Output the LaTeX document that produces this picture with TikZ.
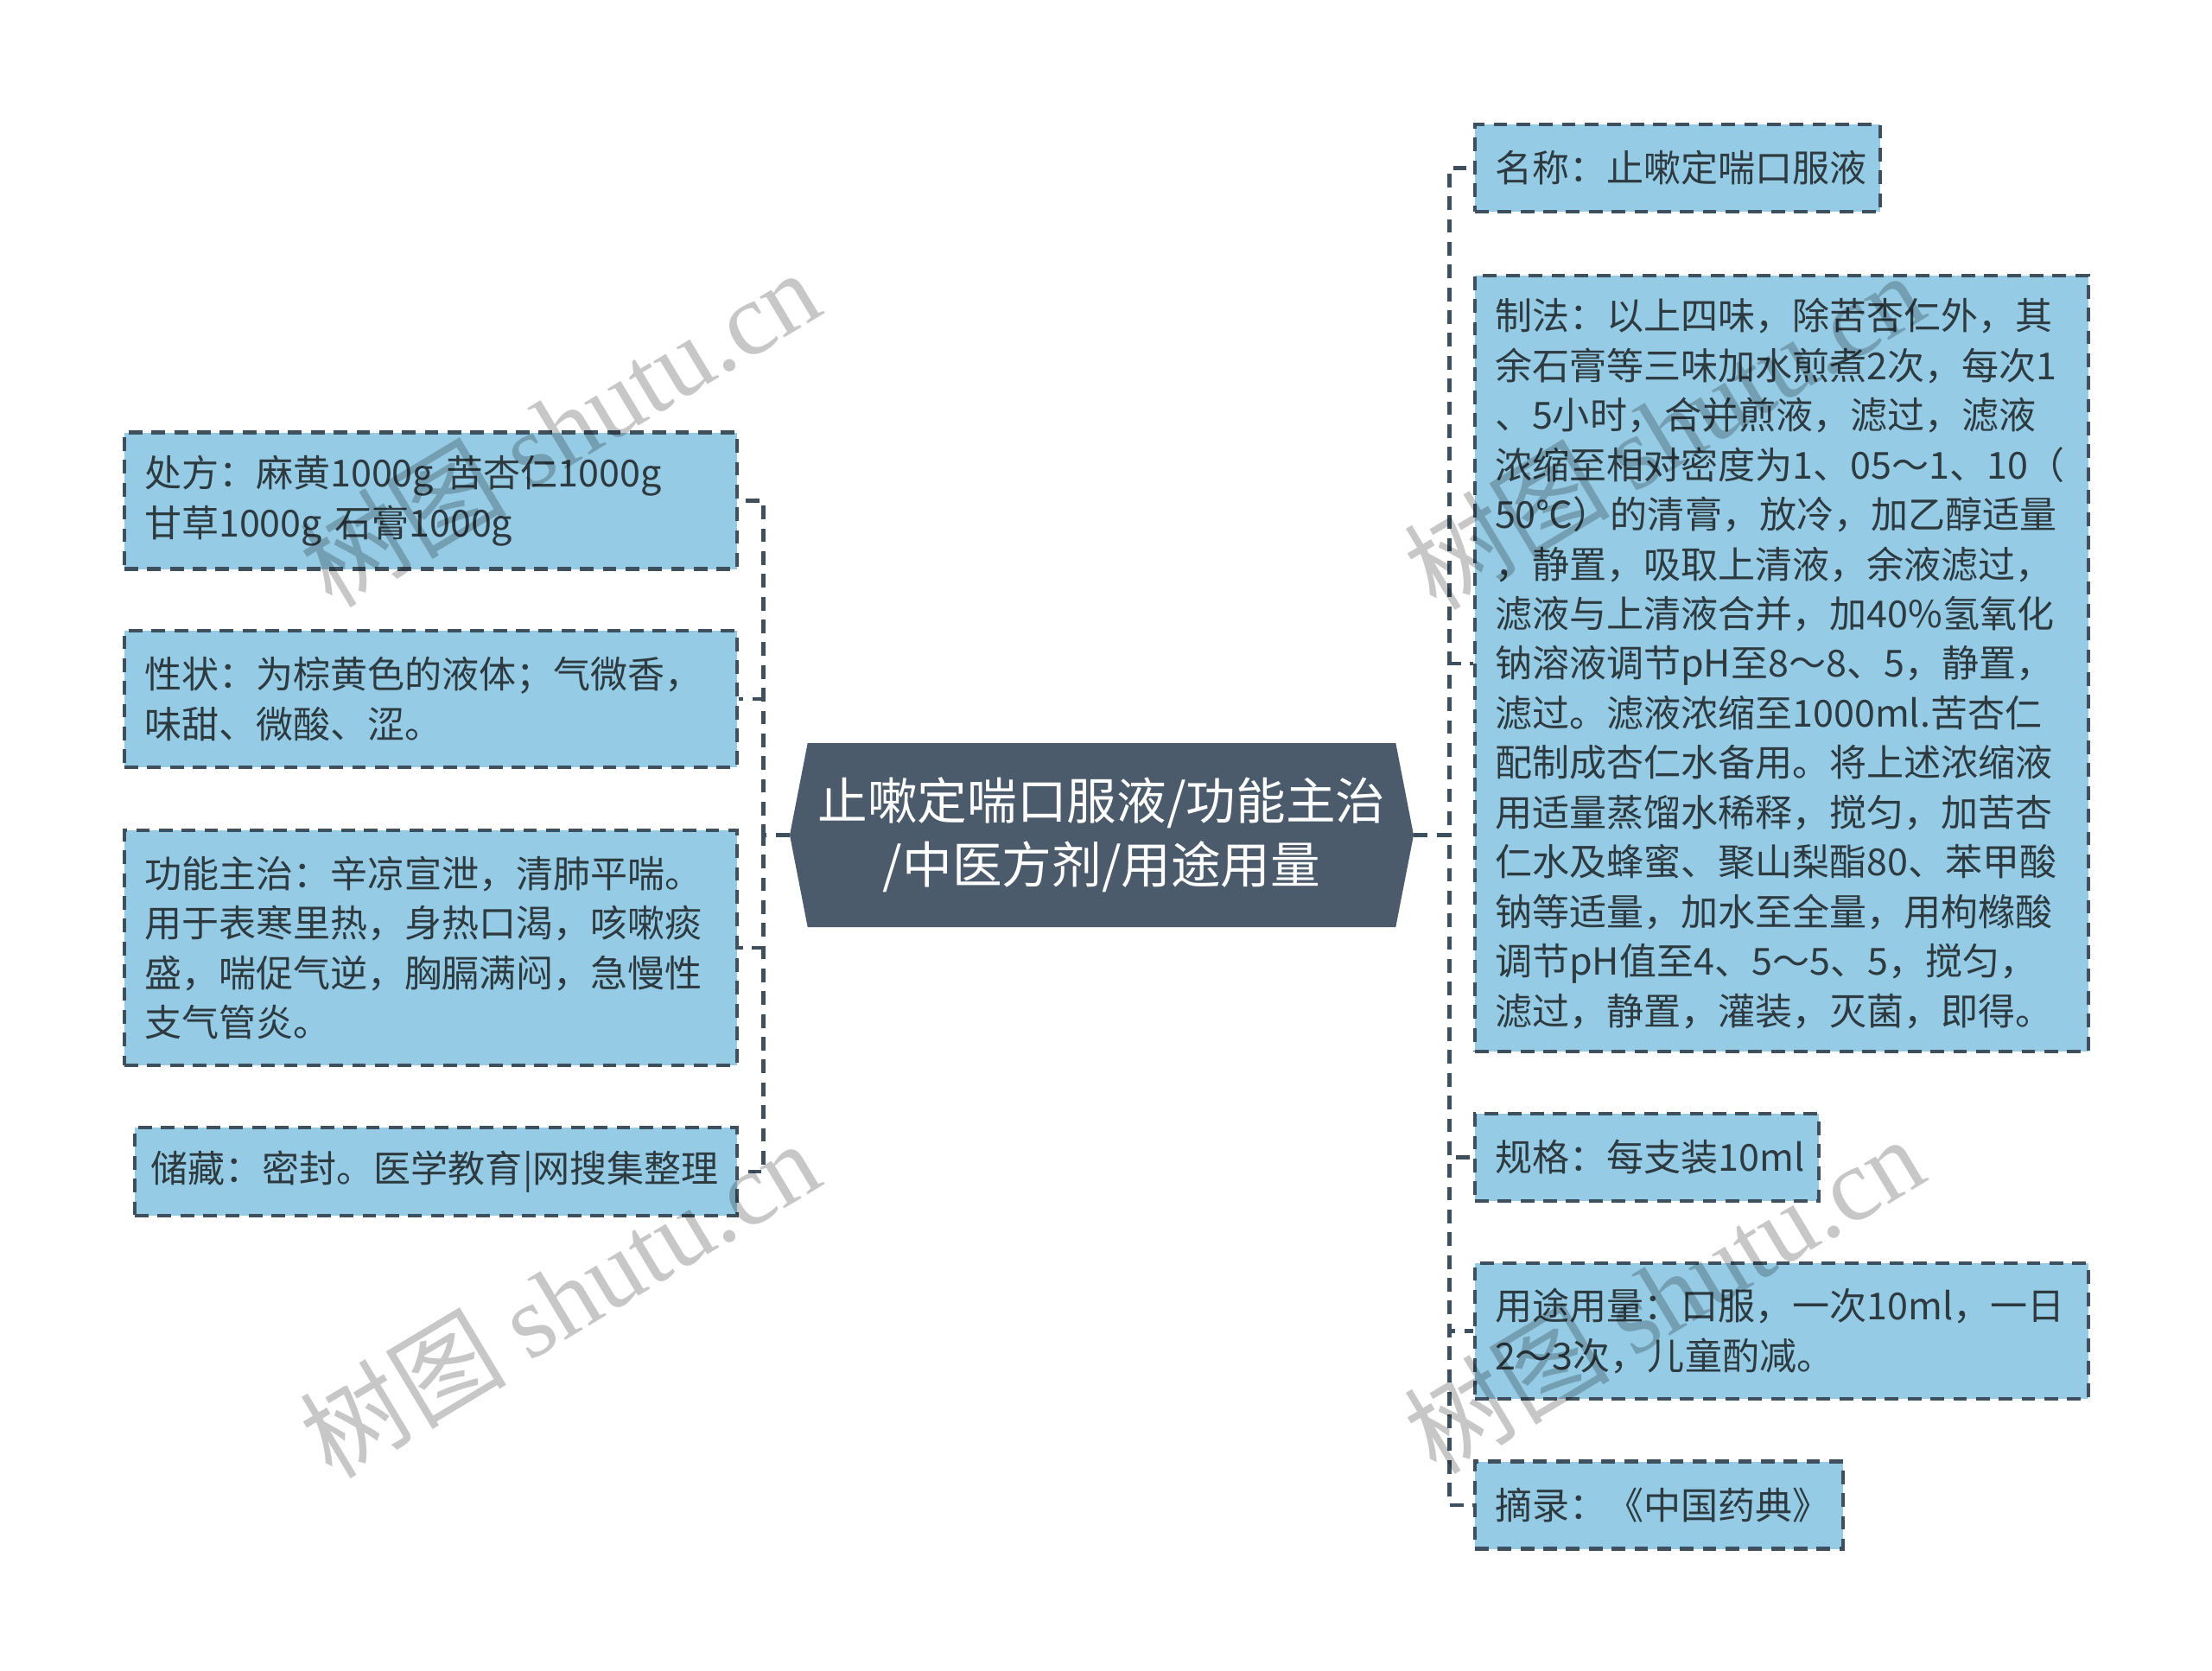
\documentclass[tikz,border=0pt]{standalone}
\usepackage{fontspec}
\setmainfont{Noto Sans CJK SC}
\newfontfamily\wmserif{Liberation Serif}
\usepackage{tikz}
\usetikzlibrary{shapes.symbols}

\definecolor{leafblue}{HTML}{95CBE4}
\definecolor{edgegray}{HTML}{3E505E}
\definecolor{hubgray}{HTML}{4B5B6B}
\definecolor{inkgray}{HTML}{2D3A40}

\tikzset{
  leaf/.style={rectangle, draw=edgegray, fill=leafblue, line width=2.5pt,
    dash pattern=on 9pt off 6pt, inner xsep=0.46cm, inner ysep=0pt,
    align=left, text=inkgray, font=\fontsize{24.5pt}{32.7pt}\selectfont},
  link/.style={draw=edgegray, line width=2.5pt, dash pattern=on 9pt off 6pt},
  shuiyin/.style={text=black, text opacity=0.22, rotate=31,
    font=\fontsize{68pt}{68pt}\selectfont}
}

\begin{document}
\begin{tikzpicture}
\useasboundingbox (0,0) rectangle (51.2,-38.68);

% centre
\node[signal, signal to=east and west, signal pointer angle=158,
    fill=hubgray, text=white, minimum width=14.44cm, minimum height=4.26cm,
    align=center, font=\fontsize{32.8pt}{42.1pt}\selectfont]
    (hub) at (25.5,-19.33) {止嗽定喘口服液/功能主治\\/中医方剂/用途用量};

% left side
\node[leaf, text width=13.26cm, minimum height=3.16cm] (fang) at (9.97,-11.59)
    {处方：麻黄1000g 苦杏仁1000g\\甘草1000g 石膏1000g};
\node[leaf, text width=13.26cm, minimum height=3.16cm] (xing) at (9.97,-16.18)
    {性状：为棕黄色的液体；气微香，\\味甜、微酸、涩。};
\node[leaf, text width=13.26cm, minimum height=5.44cm] (gong) at (9.97,-21.94)
    {功能主治：辛凉宣泄，清肺平喘。\\用于表寒里热，身热口渴，咳嗽痰\\盛，喘促气逆，胸膈满闷，急慢性\\支气管炎。};
\node[leaf, text width=13.2cm, inner xsep=0.37cm, minimum height=2.04cm] (chu) at (10.09,-27.12)
    {储藏：密封。医学教育|网搜集整理};

% right side
\node[leaf, text width=8.46cm, minimum height=2.02cm] (ming) at (38.83,-3.89)
    {名称：止嗽定喘口服液};
\node[leaf, text width=13.28cm, minimum height=17.97cm] (zhi) at (41.24,-15.36)
    {制法：以上四味，除苦杏仁外，其\\余石膏等三味加水煎煮2次，每次1\\、5小时，合并煎液，滤过，滤液\\浓缩至相对密度为1、05～1、10（\\50℃）的清膏，放冷，加乙醇适量\\，静置，吸取上清液，余液滤过，\\滤液与上清液合并，加40\%氢氧化\\钠溶液调节pH至8～8、5，静置，\\滤过。滤液浓缩至1000ml.苦杏仁\\配制成杏仁水备用。将上述浓缩液\\用适量蒸馏水稀释，搅匀，加苦杏\\仁水及蜂蜜、聚山梨酯80、苯甲酸\\钠等适量，加水至全量，用枸橼酸\\调节pH值至4、5～5、5，搅匀，\\滤过，静置，灌装，灭菌，即得。};
\node[leaf, text width=7.04cm, minimum height=2.02cm] (gui) at (38.12,-26.79)
    {规格：每支装10ml};
\node[leaf, text width=13.28cm, minimum height=3.14cm] (yong) at (41.24,-30.81)
    {用途用量：口服，一次10ml，一日\\2～3次，儿童酌减。};
\node[leaf, text width=7.6cm, minimum height=2.02cm] (zhai) at (38.4,-34.84)
    {摘录：《中国药典》};

% connectors
\foreach \n in {fang,xing,gong,chu}
  \draw[link] (hub.west) -- ++(-0.6,0) |- (\n.east);
\foreach \n in {ming,zhi,gui,yong,zhai}
  \draw[link] (hub.east) -- ++(0.82,0) |- (\n.west);

% watermarks
\node[shuiyin] (wm1) at (12.95,-9.9) {树图 {\wmserif shutu.cn}};
\node[shuiyin] (wm2) at (12.95,-30.05) {树图 {\wmserif shutu.cn}};
\node[shuiyin] (wm3) at (38.5,-9.95) {树图 {\wmserif shutu.cn}};
\node[shuiyin] (wm4) at (38.5,-29.95) {树图 {\wmserif shutu.cn}};
\end{tikzpicture}
\end{document}
